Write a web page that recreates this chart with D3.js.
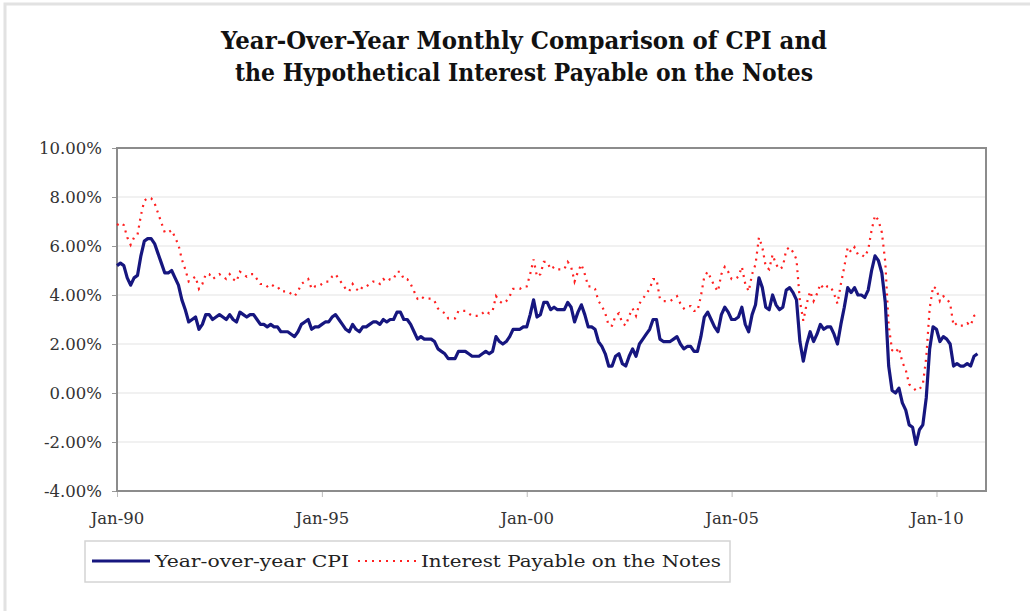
<!DOCTYPE html>
<html>
<head>
<meta charset="utf-8">
<script src="https://cdn.jsdelivr.net/npm/d3@7"></script>
<style>
  body { margin: 0; background: #fff; }
  svg { display: block; font-family: "DejaVu Serif", serif; }
</style>
</head>
<body>
<div id="chart"></div>
<script>
// chart text
const titleLines = [
    "Year-Over-Year Monthly Comparison of CPI and",
    "the Hypothetical Interest Payable on the Notes"
];
const seriesNames = ["Year-over-year CPI", "Interest Payable on the Notes"];

// axis ticks
const yTicks = [-4, -2, 0, 2, 4, 6, 8, 10];
const xTickMonths = [0, 60, 120, 180, 240];
const xTickLabels = ["Jan-90", "Jan-95", "Jan-00", "Jan-05", "Jan-10"];

// monthly values, Jan-90 .. Jan-11 (percent)
const cpi = [
    5.2, 5.3, 5.2, 4.7, 4.4, 4.7, 4.8, 5.6, 6.2, 6.3, 6.3, 6.1,
    5.7, 5.3, 4.9, 4.9, 5.0, 4.7, 4.4, 3.8, 3.4, 2.9, 3.0, 3.1,
    2.6, 2.8, 3.2, 3.2, 3.0, 3.1, 3.2, 3.1, 3.0, 3.2, 3.0, 2.9,
    3.3, 3.2, 3.1, 3.2, 3.2, 3.0, 2.8, 2.8, 2.7, 2.8, 2.7, 2.7,
    2.5, 2.5, 2.5, 2.4, 2.3, 2.5, 2.8, 2.9, 3.0, 2.6, 2.7, 2.7,
    2.8, 2.9, 2.9, 3.1, 3.2, 3.0, 2.8, 2.6, 2.5, 2.8, 2.6, 2.5,
    2.7, 2.7, 2.8, 2.9, 2.9, 2.8, 3.0, 2.9, 3.0, 3.0, 3.3, 3.3,
    3.0, 3.0, 2.8, 2.5, 2.2, 2.3, 2.2, 2.2, 2.2, 2.1, 1.8, 1.7,
    1.6, 1.4, 1.4, 1.4, 1.7, 1.7, 1.7, 1.6, 1.5, 1.5, 1.5, 1.6,
    1.7, 1.6, 1.7, 2.3, 2.1, 2.0, 2.1, 2.3, 2.6, 2.6, 2.6, 2.7,
    2.7, 3.2, 3.8, 3.1, 3.2, 3.7, 3.7, 3.4, 3.5, 3.4, 3.4, 3.4,
    3.7, 3.5, 2.9, 3.3, 3.6, 3.2, 2.7, 2.7, 2.6, 2.1, 1.9, 1.6,
    1.1, 1.1, 1.5, 1.6, 1.2, 1.1, 1.5, 1.8, 1.5, 2.0, 2.2, 2.4,
    2.6, 3.0, 3.0, 2.2, 2.1, 2.1, 2.1, 2.2, 2.3, 2.0, 1.8, 1.9,
    1.9, 1.7, 1.7, 2.3, 3.1, 3.3, 3.0, 2.7, 2.5, 3.2, 3.5, 3.3,
    3.0, 3.0, 3.1, 3.5, 2.8, 2.5, 3.2, 3.6, 4.7, 4.3, 3.5, 3.4,
    4.0, 3.6, 3.4, 3.5, 4.2, 4.3, 4.1, 3.8, 2.1, 1.3, 2.0, 2.5,
    2.1, 2.4, 2.8, 2.6, 2.7, 2.7, 2.4, 2.0, 2.8, 3.5, 4.3, 4.1,
    4.3, 4.0, 4.0, 3.9, 4.2, 5.0, 5.6, 5.4, 4.9, 3.7, 1.1, 0.1,
    0.0, 0.2, -0.4, -0.7, -1.3, -1.4, -2.1, -1.5, -1.3, -0.2, 1.8, 2.7,
    2.6, 2.1, 2.3, 2.2, 2.0, 1.1, 1.2, 1.1, 1.1, 1.2, 1.1, 1.5,
    1.6
];

const interest = [
    6.85, 6.95, 6.85, 6.35, 6.05, 6.35, 6.45, 7.25, 7.85, 7.95, 7.95, 7.75,
    7.35, 6.95, 6.55, 6.55, 6.65, 6.35, 6.05, 5.45, 5.05, 4.55, 4.65, 4.75,
    4.25, 4.45, 4.85, 4.85, 4.65, 4.75, 4.85, 4.75, 4.65, 4.85, 4.65, 4.55,
    4.95, 4.85, 4.75, 4.85, 4.85, 4.65, 4.45, 4.45, 4.35, 4.45, 4.35, 4.35,
    4.15, 4.15, 4.15, 4.05, 3.95, 4.15, 4.45, 4.55, 4.65, 4.25, 4.35, 4.35,
    4.45, 4.55, 4.55, 4.75, 4.85, 4.65, 4.45, 4.25, 4.15, 4.45, 4.25, 4.15,
    4.35, 4.35, 4.45, 4.55, 4.55, 4.45, 4.65, 4.55, 4.65, 4.65, 4.95, 4.95,
    4.65, 4.65, 4.45, 4.15, 3.85, 3.95, 3.85, 3.85, 3.85, 3.75, 3.45, 3.35,
    3.25, 3.05, 3.05, 3.05, 3.35, 3.35, 3.35, 3.25, 3.15, 3.15, 3.15, 3.25,
    3.35, 3.25, 3.35, 3.95, 3.75, 3.65, 3.75, 3.95, 4.25, 4.25, 4.25, 4.35,
    4.35, 4.85, 5.45, 4.75, 4.85, 5.35, 5.35, 5.05, 5.15, 5.05, 5.05, 5.05,
    5.35, 5.15, 4.55, 4.95, 5.25, 4.85, 4.35, 4.35, 4.25, 3.75, 3.55, 3.25,
    2.75, 2.75, 3.15, 3.25, 2.85, 2.75, 3.15, 3.45, 3.15, 3.65, 3.85, 4.05,
    4.25, 4.65, 4.65, 3.85, 3.75, 3.75, 3.75, 3.85, 3.95, 3.65, 3.45, 3.55,
    3.55, 3.35, 3.35, 3.95, 4.75, 4.95, 4.65, 4.35, 4.15, 4.85, 5.15, 4.95,
    4.65, 4.65, 4.75, 5.15, 4.45, 4.15, 4.85, 5.25, 6.35, 5.95, 5.15, 5.05,
    5.65, 5.25, 5.05, 5.15, 5.85, 5.95, 5.75, 5.45, 3.75, 2.95, 3.65, 4.15,
    3.75, 4.05, 4.45, 4.25, 4.35, 4.35, 4.05, 3.65, 4.45, 5.15, 5.95, 5.75,
    5.95, 5.65, 5.65, 5.55, 5.85, 6.65, 7.25, 7.05, 6.55, 5.35, 2.75, 1.75,
    1.65, 1.85, 1.25, 0.95, 0.35, 0.25, 0.10, 0.15, 0.35, 1.45, 3.45, 4.35,
    4.25, 3.75, 3.95, 3.85, 3.65, 2.75, 2.85, 2.75, 2.75, 2.85, 2.75, 3.15,
    3.25
];

const width = 1030,
    height = 611;
const plot = { left: 117, right: 986, top: 148, bottom: 491 };

const blue = "#16167f",
    red = "#ff2020";

const svg = d3.select("#chart")
    .append("svg")
    .attr("width", width)
    .attr("height", height);

// outer chart frame (only top & left edges show in the crop)
svg.append("rect")
    .attr("x", 5)
    .attr("y", 4)
    .attr("width", width + 20)
    .attr("height", height + 20)
    .attr("fill", "none")
    .attr("stroke", "#e2e2e2")
    .attr("stroke-width", 3);

// title
svg.append("g")
    .selectAll("text")
    .data(titleLines)
    .enter()
    .append("text")
        .attr("x", 524)
        .attr("y", (d, i) => 49 + i * 32)
        .attr("text-anchor", "middle")
        .attr("textLength", (d, i) => i === 0 ? 606 : 578)
        .attr("lengthAdjust", "spacingAndGlyphs")
        .style("font-size", "24px")
        .style("font-weight", "bold")
        .style("fill", "#111")
        .text(d => d);

// scales
const x = d3.scaleLinear()
    .domain([0, 254.5])
    .range([plot.left, plot.right]);

const y = d3.scaleLinear()
    .domain([-4, 10])
    .range([plot.bottom, plot.top]);

// gridlines
svg.append("g")
    .selectAll("line")
    .data(yTicks.filter(d => d > -4 && d < 10))
    .enter()
    .append("line")
        .attr("x1", plot.left)
        .attr("x2", plot.right)
        .attr("y1", d => y(d))
        .attr("y2", d => y(d))
        .attr("stroke", "#ececec")
        .attr("stroke-width", 1.5);

// y axis
const yAxis = svg.append("g")
    .attr("transform", `translate(${plot.left},0)`)
    .call(d3.axisLeft(y)
        .tickValues(yTicks)
        .tickSize(5)
        .tickPadding(10)
        .tickFormat(d => d.toFixed(2) + "%"));
yAxis.select(".domain").remove();
yAxis.selectAll(".tick line").attr("stroke", "#999");
yAxis.selectAll(".tick text")
    .style("font-family", "'DejaVu Serif', serif")
    .style("font-size", "16.5px")
    .style("fill", "#333");

// x axis
const xAxis = svg.append("g")
    .attr("transform", `translate(0,${plot.bottom})`)
    .call(d3.axisBottom(x)
        .tickValues(xTickMonths)
        .tickSize(6)
        .tickPadding(15)
        .tickFormat((d, i) => xTickLabels[i]));
xAxis.select(".domain").remove();
xAxis.selectAll(".tick line").attr("stroke", "#bbb");
xAxis.selectAll(".tick text")
    .style("font-family", "'DejaVu Serif', serif")
    .style("font-size", "16.5px")
    .style("fill", "#333");

// plot border
svg.append("rect")
    .attr("x", plot.left)
    .attr("y", plot.top)
    .attr("width", plot.right - plot.left)
    .attr("height", plot.bottom - plot.top)
    .attr("fill", "none")
    .attr("stroke", "#8c8c8c")
    .attr("stroke-width", 2);

// series lines
const line = d3.line()
    .x((d, i) => x(i))
    .y(d => y(d));

svg.append("path")
    .datum(interest)
    .attr("d", line)
    .attr("fill", "none")
    .attr("stroke", red)
    .attr("stroke-width", 2.2)
    .attr("stroke-dasharray", "2,5");

svg.append("path")
    .datum(cpi)
    .attr("d", line)
    .attr("fill", "none")
    .attr("stroke", blue)
    .attr("stroke-width", 3.2)
    .attr("stroke-linejoin", "round");

// legend
const legend = svg.append("g");
legend.append("rect")
    .attr("x", 85)
    .attr("y", 541)
    .attr("width", 645)
    .attr("height", 41)
    .attr("fill", "#fff")
    .attr("stroke", "#d4d4d4")
    .attr("stroke-width", 1.5);

legend.append("line")
    .attr("x1", 92).attr("x2", 150)
    .attr("y1", 561).attr("y2", 561)
    .attr("stroke", blue)
    .attr("stroke-width", 3.2);
legend.append("text")
    .attr("x", 155)
    .attr("y", 567)
    .attr("textLength", 194)
    .attr("lengthAdjust", "spacingAndGlyphs")
    .style("font-size", "17.5px")
    .style("fill", "#222")
    .text(seriesNames[0]);

legend.append("line")
    .attr("x1", 358).attr("x2", 416)
    .attr("y1", 561).attr("y2", 561)
    .attr("stroke", red)
    .attr("stroke-width", 2.2)
    .attr("stroke-dasharray", "2,5");
legend.append("text")
    .attr("x", 421)
    .attr("y", 567)
    .attr("textLength", 300)
    .attr("lengthAdjust", "spacingAndGlyphs")
    .style("font-size", "17.5px")
    .style("fill", "#222")
    .text(seriesNames[1]);
</script>
</body>
</html>
